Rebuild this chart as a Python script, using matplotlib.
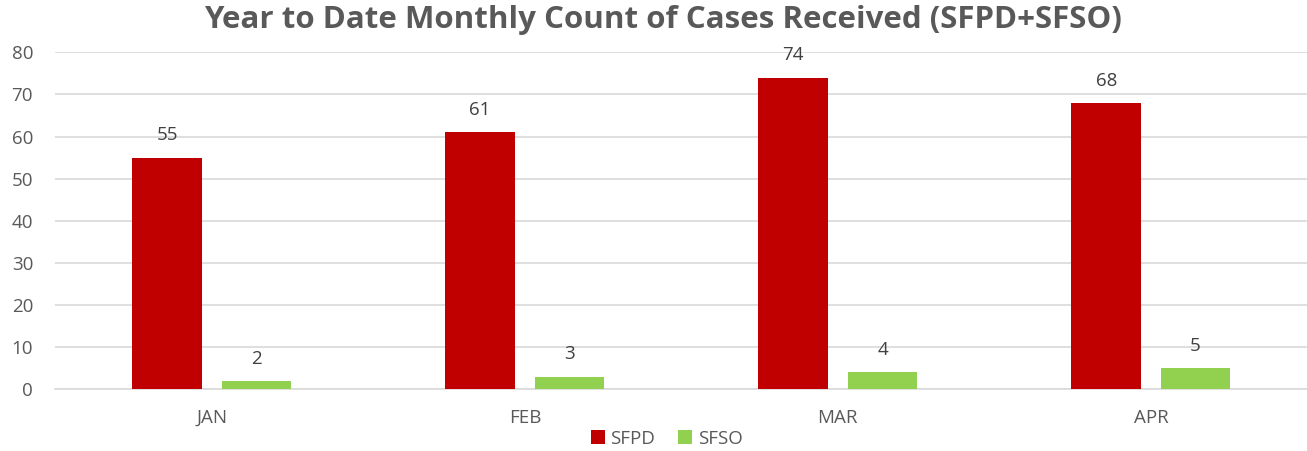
import matplotlib.pyplot as plt
import numpy as np

months = ['JAN', 'FEB', 'MAR', 'APR']
sfpd = [55, 61, 74, 68]
sfso = [2, 3, 4, 5]

plt.rcParams['font.family'] = ['Open Sans', 'DejaVu Sans']

fig = plt.figure(figsize=(13.07, 4.51), dpi=100)
ax = fig.add_axes([0.0423, 0.1368, 0.958, 0.7472])

x = np.arange(len(months))
w = 0.223
off = 0.1427
b1 = ax.bar(x - off, sfpd, w, color='#C00000', label='SFPD', zorder=3)
b2 = ax.bar(x + off, sfso, w, color='#92D050', label='SFSO', zorder=3)

for bars in (b1, b2):
    for rect in bars:
        ax.annotate(str(int(rect.get_height())),
                    (rect.get_x() + rect.get_width() / 2, rect.get_height()),
                    xytext=(0, 9.5), textcoords='offset points',
                    ha='center', va='bottom', fontsize=13.5, color='#404040')

ax.set_xlim(-0.5, 3.5)
ax.set_ylim(0, 80)
ax.set_yticks(np.arange(0, 81, 10))
ax.set_xticks(x)
ax.set_xticklabels(months)
ax.grid(axis='y', color='#D9D9D9', linewidth=1.2, zorder=0)
for s in ['top', 'right', 'left']:
    ax.spines[s].set_visible(False)
ax.spines['bottom'].set_color('#D9D9D9')
ax.spines['bottom'].set_linewidth(1.2)
ax.tick_params(axis='both', length=0, labelsize=13.5, colors='#595959')
ax.tick_params(axis='y', pad=16)
ax.tick_params(axis='x', pad=14)

fig.suptitle('Year to Date Monthly Count of Cases Received (SFPD+SFSO)',
             x=0.507, y=0.99, fontsize=22.5, fontweight='bold', color='#595959')

fig.legend(loc='center', bbox_to_anchor=(0.51, 0.027), ncol=2, frameon=False,
           fontsize=13.5, handlelength=0.75, handleheight=0.75, handletextpad=0.3,
           columnspacing=1.2, labelcolor='#595959')

fig.savefig('out.png', dpi=100)
